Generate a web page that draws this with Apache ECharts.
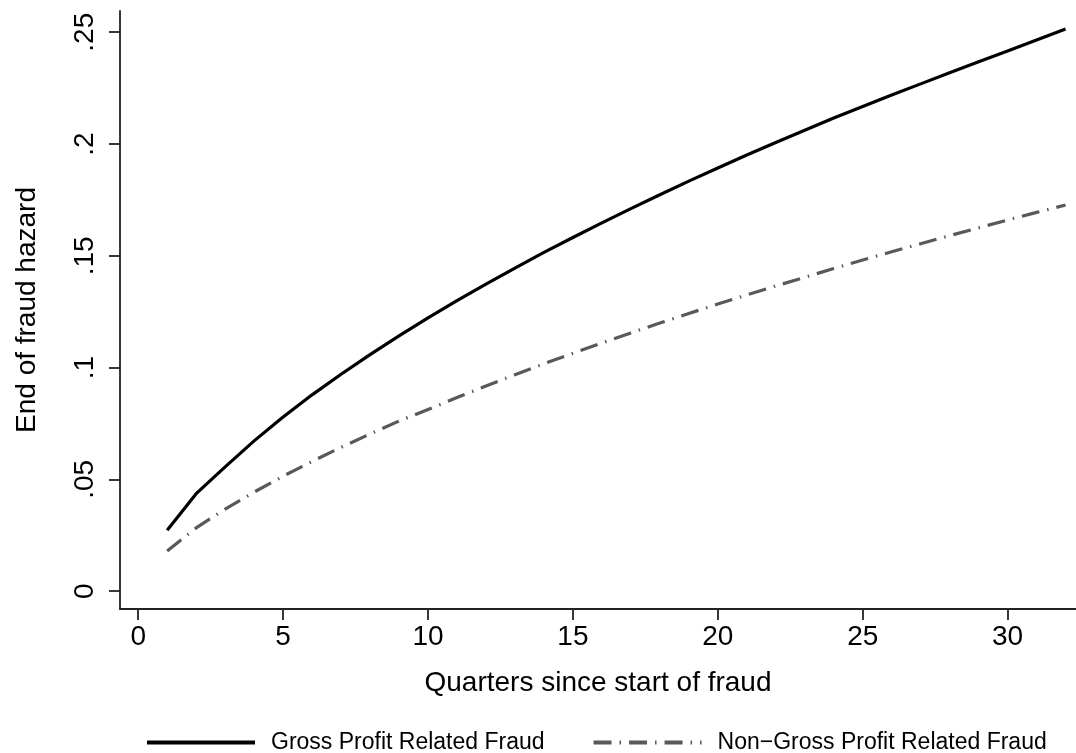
<!DOCTYPE html>
<html>
<head>
<meta charset="utf-8">
<script src="https://cdn.jsdelivr.net/npm/echarts@6/dist/echarts.min.js"></script>
<style>
html,body{margin:0;padding:0;background:#fff;}
#chart{width:1076px;height:753px;}
</style>
</head>
<body>
<div id="chart"></div>
<script>
// ---- data ----
const quarters = [1,2,3,4,5,6,7,8,9,10,11,12,13,14,15,16,17,18,19,20,21,22,23,24,25,26,27,28,29,30,31,32];
const grossProfit = [0.0272,0.0436,0.0556,0.0672,0.0779,0.0878,0.0970,0.1058,0.1142,0.1222,0.1299,0.1373,0.1445,0.1515,0.1582,0.1647,0.1711,0.1773,0.1834,0.1893,0.1951,0.2007,0.2062,0.2116,0.2168,0.2219,0.2269,0.2319,0.2368,0.2416,0.2465,0.2514];
const nonGrossProfit = [0.0179,0.0283,0.0367,0.0443,0.0514,0.0580,0.0643,0.0703,0.0761,0.0812,0.0866,0.0918,0.0968,0.1017,0.1064,0.1110,0.1155,0.1199,0.1242,0.1284,0.1325,0.1365,0.1404,0.1443,0.1481,0.1518,0.1554,0.1590,0.1625,0.1660,0.1694,0.1727];
const seriesNames = ['Gross Profit Related Fraud', 'Non\u2212Gross Profit Related Fraud'];
const xTickValues = [0,5,10,15,20,25,30];
const xTickLabels = ['0','5','10','15','20','25','30'];
const yTickValues = [0,0.05,0.1,0.15,0.2,0.25];
const yTickLabels = ['0','.05','.1','.15','.2','.25'];
const xTitle = 'Quarters since start of fraud';
const yTitle = 'End of fraud hazard';

const FONT = 'Liberation Sans, Arial, Helvetica, sans-serif';
const pairs = (ys) => quarters.map((q, i) => [q, ys[i]]);
const axisColor = '#222';

const chart = echarts.init(document.getElementById('chart'), null, {renderer: 'canvas'});
chart.setOption({
  animation: false,
  backgroundColor: '#fff',
  grid: {left: 120, right: 0, top: 11, bottom: 144, containLabel: false},
  xAxis: {
    type: 'value',
    min: -0.628, max: 32.36,
    splitLine: {show: false},
    axisLine: {show: true, onZero: false, lineStyle: {color: axisColor, width: 1.8}},
    axisTick: {show: true, length: 11, customValues: xTickValues, lineStyle: {color: axisColor, width: 1.8}},
    axisLabel: {
      customValues: xTickValues, margin: 14,
      fontFamily: FONT, fontSize: 28, color: '#000',
      formatter: (v) => xTickLabels[xTickValues.indexOf(v)]
    },
    name: xTitle, nameLocation: 'middle', nameGap: 60,
    nameTextStyle: {fontFamily: FONT, fontSize: 28, color: '#000'}
  },
  yAxis: {
    type: 'value',
    min: -0.008, max: 0.2595,
    splitLine: {show: false},
    axisLine: {show: true, onZero: false, lineStyle: {color: axisColor, width: 1.8}},
    axisTick: {show: true, length: 11, customValues: yTickValues, lineStyle: {color: axisColor, width: 1.8}},
    axisLabel: {
      customValues: yTickValues, margin: 21, rotate: 90,
      fontFamily: FONT, fontSize: 28, color: '#000',
      formatter: (v) => yTickLabels[yTickValues.indexOf(v)]
    },
    name: yTitle, nameLocation: 'middle', nameGap: 79, nameRotate: 90,
    nameTextStyle: {fontFamily: FONT, fontSize: 28, color: '#000'}
  },
  legend: {
    show: true,
    left: 145, top: 731,
    padding: 0,
    itemWidth: 108, itemHeight: 14, itemGap: 47,
    itemStyle: {opacity: 0},
    lineStyle: {width: 4},
    textStyle: {fontFamily: FONT, fontSize: 23, color: '#000', padding: [0, 0, 0, 11]},
    data: seriesNames
  },
  series: [
    {
      name: seriesNames[0], type: 'line', data: pairs(grossProfit),
      symbol: 'none', showSymbol: false, smooth: false,
      lineStyle: {color: '#000', width: 3.2, type: 'solid'},
      itemStyle: {color: '#000'}
    },
    {
      name: seriesNames[1], type: 'line', data: pairs(nonGrossProfit),
      symbol: 'none', showSymbol: false, smooth: false,
      lineStyle: {color: '#595959', width: 3.2, type: [18, 8, 1.5, 8]},
      itemStyle: {color: '#595959'}
    }
  ]
});
</script>
</body>
</html>
